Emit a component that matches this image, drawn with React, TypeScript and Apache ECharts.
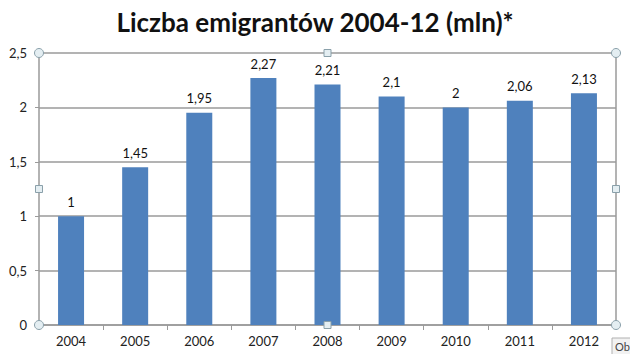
import React, { useEffect, useRef } from "react";
import * as echarts from "echarts";

const categories = ["2004", "2005", "2006", "2007", "2008", "2009", "2010", "2011", "2012"];
const values = [1, 1.45, 1.95, 2.27, 2.21, 2.1, 2, 2.06, 2.13];
const titleText = "Liczba emigrantów 2004-12 (mln)*";

const FONT = "Lato, 'Open Sans', sans-serif";
const GRAY = "#9a9a9a";

export default function App() {
  const ref = useRef<HTMLDivElement>(null);
  useEffect(() => {
    if (!ref.current) return;
    const chart = echarts.init(ref.current, undefined, { renderer: "svg" });
    const L = 39, R = 616, T = 53, B = 325;
    const midX = (L + R) / 2, midY = (T + B) / 2;
    const handleStyle = { fill: "#e4eef2", stroke: "#8aa0aa", lineWidth: 1 };
    const circ = (x: number, y: number) => ({ type: "circle", shape: { cx: x, cy: y, r: 4.5 }, style: handleStyle, z: 10 });
    const sq = (x: number, y: number) => ({ type: "rect", shape: { x: x - 3.5, y: y - 3.5, width: 7, height: 7 }, style: handleStyle, z: 10 });
    chart.setOption({
      animation: false,
      backgroundColor: "#ffffff",
      title: {
        text: titleText,
        left: "center",
        top: 4,
        textStyle: { fontFamily: FONT, fontSize: 26, fontWeight: "bold", color: "#111" },
      },
      grid: { left: L, right: 630 - R, top: T, bottom: 354 - B, containLabel: false },
      xAxis: {
        type: "category",
        data: categories,
        axisLine: { lineStyle: { color: GRAY, width: 1.5 } },
        axisTick: { show: true, length: 5, lineStyle: { color: GRAY } },
        axisLabel: { color: "#222", fontFamily: FONT, fontSize: 13, margin: 9 },
      },
      yAxis: {
        type: "value",
        min: 0,
        max: 2.5,
        interval: 0.5,
        axisLine: { show: true, lineStyle: { color: GRAY, width: 1.5 } },
        axisTick: { show: true, length: 4, lineStyle: { color: GRAY } },
        splitLine: { lineStyle: { color: GRAY, width: 1.5 } },
        axisLabel: {
          color: "#222",
          fontFamily: FONT,
          fontSize: 13,
          margin: 12,
          formatter: (v: number) => String(v).replace(".", ","),
        },
      },
      series: [
        {
          type: "bar",
          data: values,
          barWidth: 26,
          itemStyle: { color: "#4f81bd" },
          label: {
            show: true,
            position: "top",
            distance: 8,
            color: "#111",
            fontFamily: FONT,
            fontSize: 13,
            formatter: (p: any) => String(p.value).replace(".", ","),
          },
        },
      ],
      graphic: [
        { type: "line", shape: { x1: R, y1: T, x2: R, y2: B }, style: { stroke: GRAY, lineWidth: 1.5 }, z: 5 },
        circ(L, T), circ(R, T), circ(L, B), circ(R, B),
        sq(midX, T), sq(midX, B), sq(L, midY), sq(R, midY),
        {
          type: "rect",
          shape: { x: 612, y: 338, width: 30, height: 18 },
          style: { fill: "#f2f2f2", stroke: "#b0b0b0", lineWidth: 1 },
          z: 10,
        },
        {
          type: "text",
          x: 615,
          y: 341,
          style: { text: "Ob", fill: "#444", fontFamily: FONT, fontSize: 11 },
          z: 11,
        },
      ],
    });
    return () => chart.dispose();
  }, []);
  return <div ref={ref} style={{ width: 630, height: 354, position: "absolute", left: 0, top: 0 }} />;
}
